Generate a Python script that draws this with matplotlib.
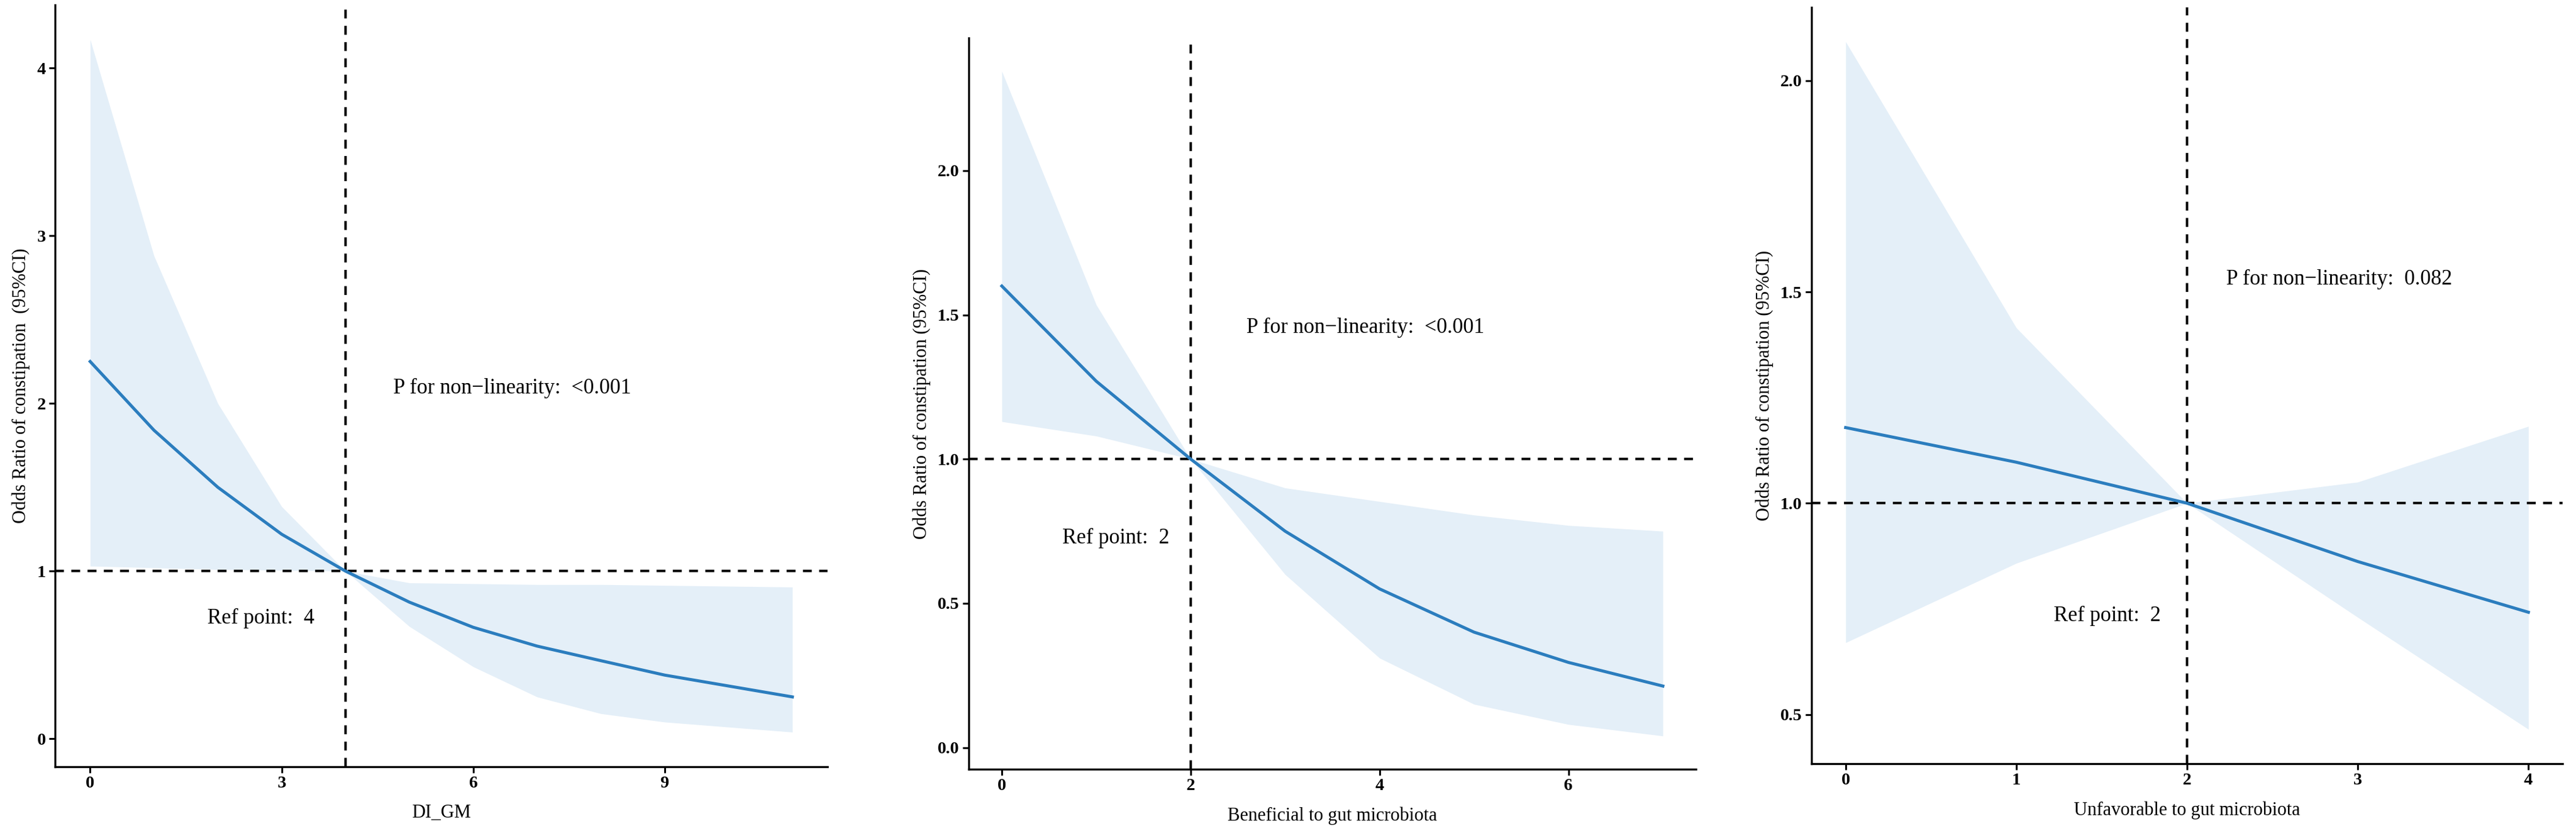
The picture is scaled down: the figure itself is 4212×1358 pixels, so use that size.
import numpy as np
import matplotlib
matplotlib.use("Agg")
import matplotlib.pyplot as plt

plt.rcParams['font.family'] = ['Liberation Serif', 'DejaVu Serif']

# ---- data ----
digm_x = [0, 1, 2, 3, 4, 5, 6, 7, 8, 9, 10, 11]
digm_or = [2.25, 1.84, 1.50, 1.22, 1.0, 0.815, 0.665, 0.553, 0.466, 0.38, 0.315, 0.25]
digm_lo = [1.03, 1.02, 1.01, 1.005, 1.0, 0.67, 0.43, 0.25, 0.15, 0.10, 0.07, 0.04]
digm_hi = [4.17, 2.88, 2.0, 1.385, 1.0, 0.93, 0.925, 0.92, 0.92, 0.915, 0.91, 0.905]

ben_x = [0, 1, 2, 3, 4, 5, 6, 7]
ben_or = [1.60, 1.27, 1.0, 0.75, 0.55, 0.40, 0.295, 0.213]
ben_lo = [1.13, 1.08, 1.0, 0.60, 0.31, 0.15, 0.08, 0.04]
ben_hi = [2.345, 1.535, 1.0, 0.90, 0.853, 0.806, 0.77, 0.75]

unf_x = [0, 1, 2, 3, 4]
unf_or = [1.179, 1.097, 1.0, 0.862, 0.742]
unf_lo = [0.67, 0.858, 1.0, 0.73, 0.465]
unf_hi = [2.092, 1.415, 1.0, 1.05, 1.182]

panels = [
    dict(x=digm_x, y=digm_or, lo=digm_lo, hi=digm_hi, ref=4,
         xticks=[0, 3, 6, 9], yticks=[0, 1, 2, 3, 4], yfmt='{:.0f}',
         xlabel='DI_GM', ylabel='Odds Ratio of constipation  (95%CI)',
         ptext='P for non\u2212linearity:  <0.001', ppos=(4.75, 2.09),
         rtext='Ref point:  4', rpos=(1.84, 0.72),
         rect=[0.02137, 0.07732, 0.29986, 0.91679]),
    dict(x=ben_x, y=ben_or, lo=ben_lo, hi=ben_hi, ref=2,
         xticks=[0, 2, 4, 6], yticks=[0.0, 0.5, 1.0, 1.5, 2.0], yfmt='{:.1f}',
         xlabel='Beneficial to gut microbiota',
         ylabel='Odds Ratio of constipation (95%CI)',
         ptext='P for non\u2212linearity:  <0.001', ppos=(2.59, 1.455),
         rtext='Ref point:  2', rpos=(0.64, 0.725),
         rect=[0.37607, 0.07437, 0.28229, 0.87997]),
    dict(x=unf_x, y=unf_or, lo=unf_lo, hi=unf_hi, ref=2,
         xticks=[0, 1, 2, 3, 4], yticks=[0.5, 1.0, 1.5, 2.0], yfmt='{:.1f}',
         xlabel='Unfavorable to gut microbiota',
         ylabel='Odds Ratio of constipation (95%CI)',
         ptext='P for non\u2212linearity:  0.082', ppos=(2.23, 1.53),
         rtext='Ref point:  2', rpos=(1.22, 0.733),
         rect=[0.70323, 0.0810, 0.29155, 0.91016]),
]

line_col = '#2B7DBE'
band_col = '#E4EFF8'

fig = plt.figure(figsize=(42.12, 13.58), dpi=100)

for p in panels:
    ax = fig.add_axes(p['rect'])
    x = np.array(p['x'])
    ax.fill_between(x, p['lo'], p['hi'], color=band_col, lw=0, zorder=1)
    ax.plot(x, p['y'], color=line_col, lw=3.6, zorder=3)
    ax.axhline(1.0, color='black', lw=2.9, ls=(0, (3.6, 3.0)), zorder=2)
    ax.axvline(p['ref'], color='black', lw=2.9, ls=(0, (3.6, 3.0)), zorder=2)

    # ggplot style 5% expansion
    x0, x1 = x.min(), x.max()
    y0, y1 = min(p['lo']), max(p['hi'])
    dx, dy = (x1 - x0) * 0.05, (y1 - y0) * 0.05
    ax.set_xlim(x0 - dx, x1 + dx)
    ax.set_ylim(y0 - dy, y1 + dy)

    ax.set_xticks(p['xticks'])
    ax.set_yticks(p['yticks'])
    ax.set_yticklabels([p['yfmt'].format(v) for v in p['yticks']])
    for lab in ax.get_xticklabels() + ax.get_yticklabels():
        lab.set_fontweight('bold')
    ax.tick_params(labelsize=20.5, length=7, width=2.2, pad=4)

    for s in ['top', 'right']:
        ax.spines[s].set_visible(False)
    for s in ['left', 'bottom']:
        ax.spines[s].set_linewidth(2.4)

    ax.set_xlabel(p['xlabel'], fontsize=22, labelpad=15)
    ax.set_ylabel(p['ylabel'], fontsize=22, labelpad=8)

    ax.text(p['ppos'][0], p['ppos'][1], p['ptext'], fontsize=25,
            ha='left', va='center')
    ax.text(p['rpos'][0], p['rpos'][1], p['rtext'], fontsize=25,
            ha='left', va='center')

fig.savefig('out.png', dpi=100, facecolor='white')
